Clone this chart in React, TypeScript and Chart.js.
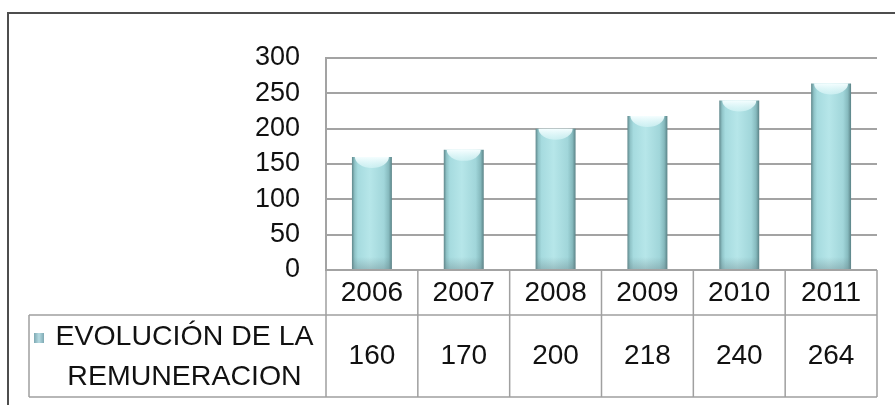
import React, { useEffect, useRef } from 'react';
import { Chart, registerables } from 'chart.js';

Chart.register(...registerables);

const categories = ['2006', '2007', '2008', '2009', '2010', '2011'];
const remuneracion = [160, 170, 200, 218, 240, 264];
const seriesLabel = ['EVOLUCIÓN DE LA', 'REMUNERACION'];
const yMin = 0;
const yMax = 300;
const yStep = 50;

const FONT = '"Liberation Sans", Arial, sans-serif';
const GRID = '#a3a3a3';
const TABLE_LINE = '#a0a0a0';
const TEXT = '#111111';
const BAR_PCT = 0.435;

function barGradient(ctx: CanvasRenderingContext2D, left: number, right: number) {
  const g = ctx.createLinearGradient(left, 0, right, 0);
  g.addColorStop(0, '#5f878b');
  g.addColorStop(0.07, '#8fc3c7');
  g.addColorStop(0.15, '#a6dbdf');
  g.addColorStop(0.45, '#b6e6e9');
  g.addColorStop(0.8, '#a1d6da');
  g.addColorStop(0.92, '#86babe');
  g.addColorStop(1, '#5a8286');
  return g;
}

const tablePlugin = {
  id: 'dataTable',
  afterDatasetsDraw(chart: any) {
    const ctx = chart.ctx as CanvasRenderingContext2D;
    const meta = chart.getDatasetMeta(0);
    meta.data.forEach((el: any) => {
      const { x, y, width, base } = el.getProps(['x', 'y', 'width', 'base'], true);
      ctx.save();
      ctx.beginPath();
      ctx.rect(x - width / 2, y, width, base - y);
      ctx.clip();
      const g = ctx.createLinearGradient(0, y, 0, y + 12);
      g.addColorStop(0, 'rgba(245,254,255,1)');
      g.addColorStop(1, 'rgba(215,245,247,0.6)');
      ctx.fillStyle = g;
      ctx.beginPath();
      ctx.ellipse(x, y, width / 2 - 3, 11, 0, 0, Math.PI * 2);
      ctx.fill();
      const gb = ctx.createLinearGradient(0, base - 12, 0, base);
      gb.addColorStop(0, 'rgba(110,135,140,0)');
      gb.addColorStop(1, 'rgba(110,135,140,0.4)');
      ctx.fillStyle = gb;
      ctx.fillRect(x - width / 2, base - 12, width, 12);
      ctx.restore();
    });
  },
  afterDraw(chart: any) {
    const ctx = chart.ctx as CanvasRenderingContext2D;
    const xs = chart.scales.x;
    const area = chart.chartArea;
    const n = categories.length;
    const cw = xs.width / n;
    const rowTop = area.bottom;
    const rowMid = 315;
    const rowBot = 397;
    const legendLeft = 29;

    ctx.save();
    ctx.strokeStyle = TABLE_LINE;
    ctx.lineWidth = 1.5;
    ctx.beginPath();
    ctx.moveTo(legendLeft, rowMid);
    ctx.lineTo(area.right, rowMid);
    ctx.moveTo(legendLeft, rowBot);
    ctx.lineTo(area.right, rowBot);
    ctx.moveTo(legendLeft, rowMid);
    ctx.lineTo(legendLeft, rowBot);
    for (let i = 0; i <= n; i++) {
      const bx = i < n ? xs.getPixelForValue(i) - cw / 2 : xs.getPixelForValue(n - 1) + cw / 2;
      ctx.moveTo(bx, rowTop);
      ctx.lineTo(bx, rowBot);
    }
    ctx.stroke();

    ctx.fillStyle = TEXT;
    ctx.font = `28px ${FONT}`;
    ctx.textAlign = 'center';
    ctx.textBaseline = 'middle';
    categories.forEach((c, i) => {
      const cx = xs.getPixelForValue(i);
      ctx.fillText(c, cx, (rowTop + rowMid) / 2 + 1);
      ctx.fillText(String(remuneracion[i]), cx, (rowMid + rowBot) / 2);
    });

    const lcx = (legendLeft + area.left) / 2 + 7;
    const lcy = (rowMid + rowBot) / 2;
    ctx.font = `28.5px ${FONT}`;
    ctx.fillText(seriesLabel[0], lcx, lcy - 19);
    ctx.fillText(seriesLabel[1], lcx, lcy + 21);
    const m = ctx.createLinearGradient(34, 0, 44, 0);
    m.addColorStop(0, '#7ea9b3');
    m.addColorStop(0.5, '#b6dbe2');
    m.addColorStop(1, '#7ea9b3');
    ctx.fillStyle = m;
    ctx.fillRect(34, lcy - 23, 10, 10);

    ctx.strokeStyle = '#4e4e4e';
    ctx.lineWidth = 2;
    ctx.beginPath();
    ctx.moveTo(8, chart.height);
    ctx.lineTo(8, 13);
    ctx.lineTo(chart.width, 13);
    ctx.stroke();
    ctx.restore();
  },
};

export default function App() {
  const ref = useRef<HTMLCanvasElement | null>(null);

  useEffect(() => {
    if (!ref.current) return;
    const chart = new Chart(ref.current, {
      type: 'bar',
      data: {
        labels: categories,
        datasets: [
          {
            label: seriesLabel.join(' '),
            data: remuneracion,
            backgroundColor: (c: any) => {
              const ch = c.chart;
              const xs = ch.scales && ch.scales.x;
              if (!xs || c.dataIndex === undefined || !ch.chartArea) return '#a6dbdf';
              const cx = xs.getPixelForValue(c.dataIndex);
              const w = (xs.width / categories.length) * BAR_PCT;
              return barGradient(ch.ctx, cx - w / 2, cx + w / 2);
            },
            borderWidth: 0,
            barPercentage: BAR_PCT,
            categoryPercentage: 1,
          },
        ],
      },
      options: {
        responsive: false,
        animation: false,
        events: [],
        layout: { padding: { left: 0, right: 18, top: 58, bottom: 0 } },
        plugins: {
          legend: { display: false },
          title: { display: false },
          tooltip: { enabled: false },
        },
        scales: {
          x: {
            grid: { display: false },
            border: { display: false },
            ticks: { display: false },
            afterFit: (s: any) => {
              s.height = 135;
            },
          },
          y: {
            min: yMin,
            max: yMax,
            ticks: {
              stepSize: yStep,
              autoSkip: false,
              color: TEXT,
              font: { family: FONT, size: 27 },
              padding: 26,
            },
            grid: { color: GRID, lineWidth: 2, drawTicks: false },
            border: { display: true, color: GRID, width: 2 },
            afterFit: (s: any) => {
              s.width = 326;
            },
          },
        },
      },
      plugins: [tablePlugin],
    });
    return () => chart.destroy();
  }, []);

  return (
    <div style={{ position: 'absolute', left: 0, top: 0, width: 895, height: 405, background: '#fff' }}>
      <canvas ref={ref} width={895} height={405} style={{ display: 'block', width: 895, height: 405 }} />
    </div>
  );
}
